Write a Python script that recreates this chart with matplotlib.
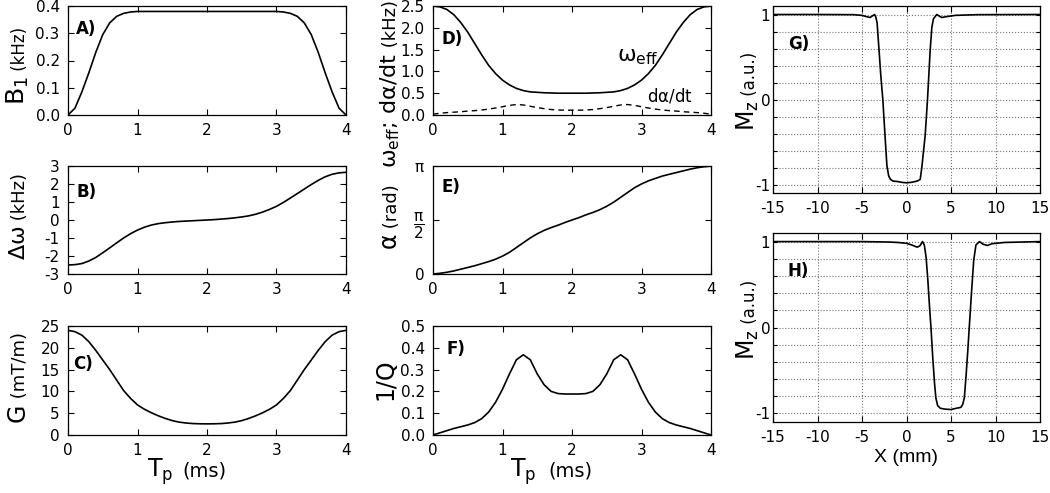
"""Adiabatic pulse shapes (A-F) and slice profiles (G, H)."""

import numpy as np
import matplotlib
matplotlib.use("Agg")
import matplotlib.pyplot as plt

plt.rcParams["font.family"] = ["DejaVu Sans"]
plt.rcParams["axes.unicode_minus"] = False
plt.rcParams["mathtext.default"] = "regular"

W, H = 1050, 493

# pulse time axis (ms)
T_MS = np.linspace(0, 4, 41)

B1_KHZ = [0.0, 0.025, 0.085, 0.155, 0.23, 0.295, 0.338, 0.362, 0.373, 0.378,
          0.38, 0.38, 0.38, 0.38, 0.38, 0.38, 0.38, 0.38, 0.38, 0.38,
          0.38, 0.38, 0.38, 0.38, 0.38, 0.38, 0.38, 0.38, 0.38, 0.38,
          0.38, 0.378, 0.373, 0.362, 0.338, 0.295, 0.23, 0.155, 0.085, 0.025, 0.0]

DW_KHZ = [-2.5, -2.48, -2.42, -2.28, -2.08, -1.82, -1.55, -1.27, -1.0, -0.76,
          -0.56, -0.4, -0.28, -0.2, -0.15, -0.11, -0.08, -0.06, -0.04, -0.02,
          0.0, 0.02, 0.05, 0.08, 0.12, 0.17, 0.23, 0.32, 0.44, 0.59,
          0.76, 0.98, 1.22, 1.47, 1.72, 1.97, 2.2, 2.4, 2.54, 2.62, 2.65]

G_MTM = [24.0, 23.7, 22.9, 21.4, 19.4, 17.2, 15.0, 12.6, 10.2, 8.4,
         6.9, 5.9, 5.1, 4.4, 3.8, 3.3, 2.95, 2.75, 2.62, 2.57,
         2.55, 2.57, 2.62, 2.75, 2.95, 3.3, 3.8, 4.4, 5.1, 5.9,
         6.9, 8.4, 10.2, 12.6, 15.0, 17.2, 19.4, 21.4, 22.9, 23.7, 24.0]

W_EFF = [2.5, 2.48, 2.42, 2.3, 2.12, 1.9, 1.64, 1.38, 1.14, 0.95,
         0.8, 0.69, 0.61, 0.56, 0.53, 0.52, 0.51, 0.505, 0.5, 0.5,
         0.5, 0.5, 0.5, 0.505, 0.51, 0.52, 0.53, 0.56, 0.61, 0.69,
         0.8, 0.95, 1.14, 1.38, 1.64, 1.9, 2.12, 2.3, 2.42, 2.48, 2.5]

DADT = [0.02, 0.04, 0.055, 0.065, 0.075, 0.09, 0.1, 0.115, 0.135, 0.16,
        0.19, 0.22, 0.24, 0.23, 0.2, 0.17, 0.145, 0.125, 0.115, 0.11,
        0.11, 0.11, 0.115, 0.125, 0.145, 0.17, 0.2, 0.23, 0.24, 0.22,
        0.19, 0.16, 0.135, 0.115, 0.1, 0.09, 0.075, 0.065, 0.055, 0.04, 0.02]

ALPHA = [0.0, 0.02, 0.05, 0.09, 0.14, 0.19, 0.24, 0.3, 0.36, 0.43,
         0.52, 0.63, 0.77, 0.91, 1.05, 1.17, 1.27, 1.35, 1.42, 1.5,
         1.57, 1.64, 1.72, 1.79, 1.87, 1.97, 2.09, 2.23, 2.37, 2.51,
         2.62, 2.71, 2.78, 2.85, 2.9, 2.95, 3.0, 3.05, 3.09, 3.12, 3.14]

INV_Q = [0.0, 0.01, 0.02, 0.03, 0.038, 0.046, 0.057, 0.075, 0.105, 0.15,
         0.21, 0.28, 0.345, 0.368, 0.345, 0.28, 0.23, 0.2, 0.19, 0.188,
         0.188, 0.188, 0.19, 0.2, 0.23, 0.28, 0.345, 0.368, 0.345, 0.28,
         0.21, 0.15, 0.105, 0.075, 0.057, 0.046, 0.038, 0.03, 0.02, 0.01, 0.0]

# slice profiles
X_G = [-15, -10, -6, -5, -4.5, -4.1, -3.8, -3.6, -3.45, -3.3, -3.1, -2.9, -2.66,
       -2.4, -2.2, -2.0, -1.8, -1.5, -1.0, -0.5, 0.0, 0.5, 1.0, 1.3, 1.54,
       1.72, 1.9, 2.1, 2.36, 2.66, 2.85, 3.03, 3.4, 3.7, 3.97, 4.5, 5.5, 8, 15]
MZ_G = [1.0, 1.0, 0.998, 0.99, 0.975, 0.965, 0.985, 1.0, 0.97, 0.9, 0.6, 0.3, 0.0,
        -0.45, -0.78, -0.9, -0.94, -0.96, -0.965, -0.975, -0.98, -0.975, -0.965, -0.955, -0.94,
        -0.8, -0.62, -0.42, 0.0, 0.58, 0.85, 0.95, 1.0, 0.98, 0.965, 0.975, 0.99, 0.998, 1.0]

X_H = [-15, -5, -2, -1, 0, 0.6, 1.2, 1.5, 1.8, 2.0, 2.2, 2.4, 2.6, 2.75, 2.95,
       3.15, 3.3, 3.5, 3.8, 4.3, 5.0, 5.6, 6.1, 6.3, 6.5, 6.7, 6.9, 7.05, 7.3,
       7.55, 7.8, 8.2, 8.6, 9.1, 9.6, 11, 15]
MZ_H = [1.0, 1.0, 0.995, 0.99, 0.98, 0.96, 0.935, 0.95, 1.0, 0.96, 0.82, 0.55, 0.22, 0.0, -0.35,
        -0.65, -0.82, -0.91, -0.94, -0.95, -0.955, -0.94, -0.93, -0.9, -0.82, -0.55, -0.25, 0.0, 0.4,
        0.78, 0.96, 1.0, 0.97, 0.955, 0.975, 0.99, 1.0]


def make_axes(fig, left, top, right, bottom):
    """Axes from pixel box of the reference."""
    ax = fig.add_axes([left / W, 1 - bottom / H, (right - left) / W, (bottom - top) / H])
    ax.tick_params(direction="in", top=True, right=True, length=4, width=0.8,
                   labelsize=11, pad=6)
    for s in ax.spines.values():
        s.set_linewidth(0.9)
    return ax


def split_ylabel(ax, x, y, big, small, big_size=16, small_size=12):
    t = ax.text(x, y, big, transform=ax.transAxes, rotation=90, rotation_mode="anchor",
                ha="left", va="baseline", fontsize=big_size)
    if small:
        ax.annotate(small, xy=(x, 1), xycoords=(ax.transAxes, t), rotation=90,
                    rotation_mode="anchor", ha="left", va="baseline", fontsize=small_size)


def tp_xlabel(ax, x_big, x_small, y):
    ax.text(x_big, y, "T$_p$", transform=ax.transAxes, ha="left", va="baseline", fontsize=17)
    ax.text(x_small, y, "(ms)", transform=ax.transAxes, ha="left", va="baseline", fontsize=14)


def panel_letter(ax, x, y, s):
    ax.text(x, y, s, transform=ax.transAxes, ha="left", va="top", fontsize=12,
            fontweight="bold")


def time_axes(ax):
    ax.set_xlim(0, 4)
    ax.set_xticks([0, 1, 2, 3, 4])


fig = plt.figure(figsize=(W / 100, H / 100), dpi=100)

# A) B1
ax = make_axes(fig, 68, 6, 346, 115)
ax.plot(T_MS, B1_KHZ, color="black", lw=1.2)
time_axes(ax)
ax.set_ylim(0, 0.4)
ax.set_yticks([0, 0.1, 0.2, 0.3, 0.4])
ax.set_yticklabels(["0.0", "0.1", "0.2", "0.3", "0.4"])
split_ylabel(ax, -0.155, 0.09, "B$_1$", " (kHz)", 18, 12)
panel_letter(ax, 0.03, 0.87, "A)")

# B) frequency offset
ax = make_axes(fig, 68, 166, 346, 274)
ax.plot(T_MS, DW_KHZ, color="black", lw=1.2)
time_axes(ax)
ax.set_ylim(-3, 3)
ax.set_yticks([-3, -2, -1, 0, 1, 2, 3])
split_ylabel(ax, -0.155, 0.13, "$\\Delta\\omega$", " (kHz)", 16, 13)
panel_letter(ax, 0.03, 0.84, "B)")

# C) gradient
ax = make_axes(fig, 68, 326, 346, 435)
ax.plot(T_MS, G_MTM, color="black", lw=1.2)
time_axes(ax)
ax.set_ylim(0, 25)
ax.set_yticks([0, 5, 10, 15, 20, 25])
split_ylabel(ax, -0.155, 0.12, "G", " (mT/m)", 17, 13)
tp_xlabel(ax, 0.284, 0.41, -0.385)
panel_letter(ax, 0.02, 0.73, "C)")

# D) effective field and sweep rate
ax = make_axes(fig, 433, 6, 711, 115)
ax.plot(T_MS, W_EFF, color="black", lw=1.2)
ax.plot(T_MS, DADT, color="black", lw=1.0, ls=(0, (4, 3)))
time_axes(ax)
ax.set_ylim(0, 2.5)
ax.set_yticks([0, 0.5, 1.0, 1.5, 2.0, 2.5])
ax.set_yticklabels(["0.0", "0.5", "1.0", "1.5", "2.0", "2.5"])
split_ylabel(ax, -0.133, -0.49, "$\\omega_{eff}$; d$\\alpha$/dt", " (kHz)", 16, 13)
ax.text(2.65, 1.22, "$\\omega_{eff}$", fontsize=16, ha="left", va="baseline")
ax.text(3.08, 0.3, "d$\\alpha$/dt", fontsize=12, ha="left", va="baseline")
panel_letter(ax, 0.03, 0.78, "D)")

# E) alpha
ax = make_axes(fig, 433, 166, 711, 274)
ax.plot(T_MS, ALPHA, color="black", lw=1.2)
time_axes(ax)
ax.set_ylim(0, np.pi)
ax.set_yticks([0, np.pi / 2, np.pi])
ax.set_yticklabels(["0", "$\\dfrac{\\pi}{2}$", "$\\pi$"])
split_ylabel(ax, -0.13, 0.22, "$\\alpha$", " (rad)", 17, 13)
panel_letter(ax, 0.03, 0.89, "E)")

# F) adiabaticity
ax = make_axes(fig, 433, 326, 711, 435)
ax.plot(T_MS, INV_Q, color="black", lw=1.2)
time_axes(ax)
ax.set_ylim(0, 0.5)
ax.set_yticks([0, 0.1, 0.2, 0.3, 0.4, 0.5])
ax.set_yticklabels(["0.0", "0.1", "0.2", "0.3", "0.4", "0.5"])
split_ylabel(ax, -0.147, 0.32, "1/Q", "", 17)
tp_xlabel(ax, 0.277, 0.414, -0.385)
panel_letter(ax, 0.05, 0.87, "F)")

# G) and H) slice profiles
mz_ticks = np.round(np.arange(-1, 1.01, 0.2), 1)
mz_labels = ["-1" if v == -1 else "0" if v == 0 else "1" if v == 1 else "" for v in mz_ticks]
for (top, bottom, xs, mz, letter) in [(6, 193, X_G, MZ_G, "G)"), (233, 422, X_H, MZ_H, "H)")]:
    ax = make_axes(fig, 773, top, 1040, bottom)
    ax.plot(xs, mz, color="black", lw=1.2, zorder=3)
    ax.set_xlim(-15, 15)
    ax.set_ylim(-1.1, 1.1)
    ax.set_xticks([-15, -10, -5, 0, 5, 10, 15])
    ax.set_yticks(mz_ticks)
    ax.set_yticklabels(mz_labels)
    ax.tick_params(axis="y", length=3, pad=2)
    ax.grid(True, ls=":", color="0.45", lw=0.8)
    split_ylabel(ax, -0.067, 0.33, "M$_z$", " (a.u.)", 17, 12)
    panel_letter(ax, 0.056, 0.845, letter)

ax.text(0.5, -0.21, "X (mm)", transform=ax.transAxes, ha="center", va="baseline",
        fontsize=14, family=["Liberation Sans", "DejaVu Sans"])

fig.savefig("out.png", dpi=100)
